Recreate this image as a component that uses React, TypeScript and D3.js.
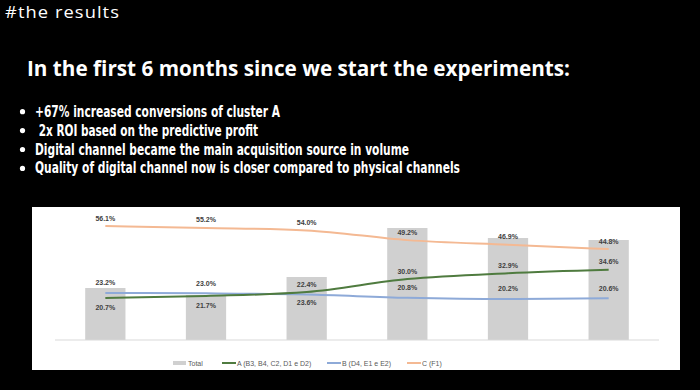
import React from "react";
import * as d3 from "d3";

const months = ["M1", "M2", "M3", "M4", "M5", "M6"];
const totals = [1040, 900, 1260, 2240, 2040, 2000];
const seriesA = [20.7, 21.7, 23.6, 30.0, 32.9, 34.6];
const seriesB = [23.2, 23.0, 22.4, 20.8, 20.2, 20.6];
const seriesC = [56.1, 55.2, 54.0, 49.2, 46.9, 44.8];
const labelSideA = ["below", "below", "below", "above", "above", "above"];
const legendLabels = ["Total", "A (B3, B4, C2, D1 e D2)", "B (D4, E1 e E2)", "C (F1)"];
const bullets = [
  "+67% increased conversions of cluster A",
  " 2x ROI based on the predictive profit",
  "Digital channel became the main acquisition source in volume",
  "Quality of digital channel now is closer compared to physical channels",
];
const bulletWidths = [245, 223, 374, 425];

const W = 700;
const H = 390;
const axisY = 340;

export default function App() {
  const x = d3.scaleBand<string>().domain(months).range([55, 659]).paddingInner(0.6).paddingOuter(0.3);
  const yPct = d3.scaleLinear().domain([0, 100]).range([axisY, 137]);
  const yTot = d3.scaleLinear().domain([0, 4000]).range([axisY, 140]);
  const cx = (i: number) => (x(months[i]) as number) + x.bandwidth() / 2;
  const line = d3
    .line<number>()
    .x((_, i) => cx(i))
    .y((d) => yPct(d))
    .curve(d3.curveMonotoneX);

  const colA = "#4f7b3f";
  const colB = "#8eaad8";
  const colC = "#f4b993";
  const labelStyle = {
    fontFamily: "Liberation Sans, Arial, sans-serif",
    fontSize: 7,
    fontWeight: 700,
    fill: "#404040",
  } as const;

  const legendItems = [
    { x: 173, type: "rect", color: "#d0d0d0", tx: 188 },
    { x: 222, type: "line", color: colA, tx: 237 },
    { x: 327, type: "line", color: colB, tx: 342 },
    { x: 407, type: "line", color: colC, tx: 422 },
  ];

  return (
    <svg
      width={W}
      height={H}
      style={{ position: "absolute", left: 0, top: 0, background: "#000" }}
    >
      <rect x={0} y={0} width={W} height={H} fill="#000" />
      <text
        x={5}
        y={18}
        fill="#fff"
        style={{ fontFamily: "Open Sans, sans-serif", fontSize: 17, letterSpacing: 1 }}
        textLength={115}
        lengthAdjust="spacingAndGlyphs"
      >
        #the results
      </text>
      <text
        x={27}
        y={76}
        fill="#fff"
        style={{ fontFamily: "Open Sans, sans-serif", fontSize: 21, fontWeight: 700 }}
        textLength={543}
        lengthAdjust="spacingAndGlyphs"
      >
        In the first 6 months since we start the experiments:
      </text>
      {bullets.map((b, i) => (
        <g key={i}>
          <circle cx={22.5} cy={116.7 + i * 18.9 - 5} r={2.6} fill="#fff" />
          <text
            x={35}
            y={116.7 + i * 18.9}
            fill="#fff"
            style={{ fontFamily: "DejaVu Sans Condensed, DejaVu Sans, sans-serif", fontSize: 15, fontWeight: 700, whiteSpace: "pre" }}
            textLength={bulletWidths[i]}
            lengthAdjust="spacingAndGlyphs"
            xmlSpace="preserve"
          >
            {b}
          </text>
        </g>
      ))}

      <rect x={32} y={207} width={648} height={163} fill="#fff" />
      {totals.map((t, i) => (
        <rect
          key={i}
          x={x(months[i])}
          y={yTot(t)}
          width={x.bandwidth()}
          height={axisY - yTot(t)}
          fill="#d0d0d0"
        />
      ))}
      <line x1={55} x2={659} y1={axisY} y2={axisY} stroke="#d9d9d9" strokeWidth={1} />

      <path d={line(seriesC) || ""} fill="none" stroke={colC} strokeWidth={2} />
      <path d={line(seriesB) || ""} fill="none" stroke={colB} strokeWidth={2} />
      <path d={line(seriesA) || ""} fill="none" stroke={colA} strokeWidth={2} />

      {seriesC.map((v, i) => (
        <text key={"c" + i} x={cx(i)} y={yPct(v) - 5.5} textAnchor="middle" style={labelStyle}>
          {v.toFixed(1)}%
        </text>
      ))}
      {seriesB.map((v, i) => (
        <text key={"b" + i} x={cx(i)} y={yPct(v) - 7.5} textAnchor="middle" style={labelStyle}>
          {v.toFixed(1)}%
        </text>
      ))}
      {seriesA.map((v, i) => (
        <text
          key={"a" + i}
          x={cx(i)}
          y={labelSideA[i] === "below" ? yPct(v) + 12.5 : yPct(v) - 5.5}
          textAnchor="middle"
          style={labelStyle}
        >
          {v.toFixed(1)}%
        </text>
      ))}

      {legendItems.map((it, i) => (
        <g key={"l" + i}>
          {it.type === "rect" ? (
            <rect x={it.x} y={361} width={13} height={4} fill={it.color} />
          ) : (
            <line x1={it.x} x2={it.x + 14} y1={363} y2={363} stroke={it.color} strokeWidth={2} />
          )}
          <text
            x={it.tx}
            y={365.5}
            style={{ fontFamily: "Liberation Sans, Arial, sans-serif", fontSize: 7, fill: "#595959" }}
          >
            {legendLabels[i]}
          </text>
        </g>
      ))}
    </svg>
  );
}
